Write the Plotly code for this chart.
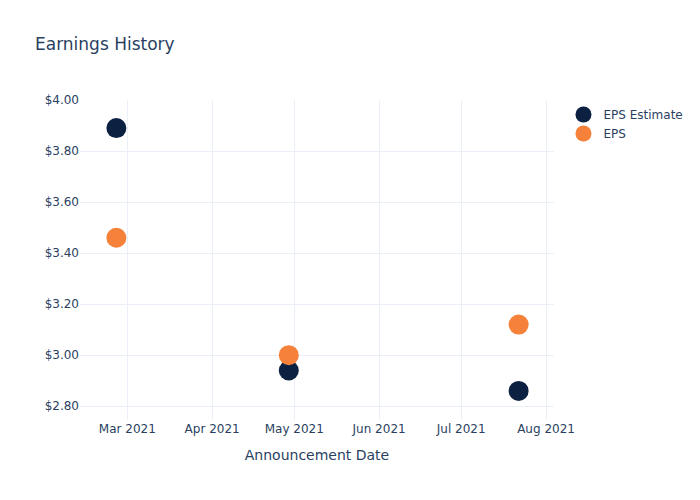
import plotly.graph_objects as go

dates = ["2021-02-25", "2021-04-29", "2021-07-22"]
eps_estimate = [3.89, 2.94, 2.86]
eps_actual = [3.46, 3.00, 3.12]

fig = go.Figure()
fig.add_trace(go.Scatter(x=dates, y=eps_estimate, mode="markers", name="EPS Estimate",
                         marker=dict(color="#0c2142", size=20)))
fig.add_trace(go.Scatter(x=dates, y=eps_actual, mode="markers", name="EPS",
                         marker=dict(color="#f5813a", size=20)))

fig.update_layout(
    template="plotly_white",
    width=700, height=500,
    font=dict(family="DejaVu Sans"),
    title=dict(text="Earnings History"),
    xaxis=dict(title=dict(text="Announcement Date"),
               range=["2021-02-11 17:00", "2021-08-03 22:00"]),
    yaxis=dict(tickprefix="$", tickformat=".2f", range=[2.746, 4.0], dtick=0.2),
)
fig.write_html("out.html")
